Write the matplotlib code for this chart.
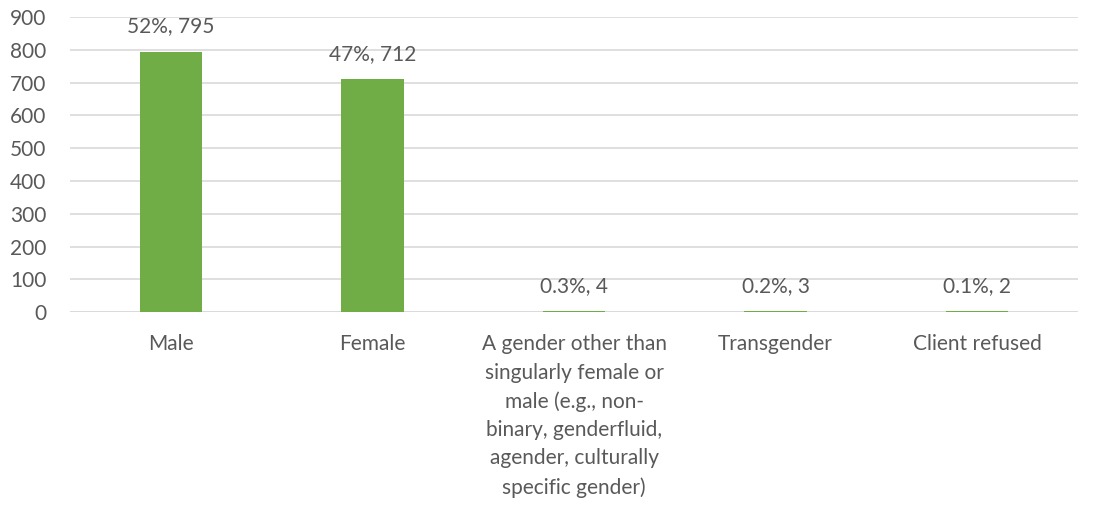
import matplotlib
matplotlib.use("Agg")
import matplotlib.pyplot as plt

# gender breakdown of clients
categories = ["Male", "Female",
              "A gender other than\nsingularly female or\nmale (e.g., non-\nbinary, genderfluid,\nagender, culturally\nspecific gender)",
              "Transgender", "Client refused"]
counts = [795, 712, 4, 3, 2]
percents = ["52%", "47%", "0.3%", "0.2%", "0.1%"]

plt.rcParams['font.family'] = ['Lato', 'DejaVu Sans']
txt = "#595959"
fs = 15

fig = plt.figure(figsize=(10.96, 5.05), dpi=100)
ax = fig.add_axes([0.0639, 0.382, 0.9197, 0.584])

x = range(len(categories))
ax.bar(x, counts, width=0.31, color="#70AD47", zorder=3)
for i, (c, p) in enumerate(zip(counts, percents)):
    ax.annotate(f"{p}, {c}", (i, c), xytext=(0, 18), textcoords="offset points",
                ha="center", va="center", fontsize=fs, color=txt)

ax.set_xlim(-0.5, len(categories) - 0.5)
ax.set_ylim(0, 900)
ax.set_yticks(range(0, 901, 100))
ax.set_xticks(list(x))
ax.set_xticklabels(categories, fontsize=fs, color=txt, linespacing=1.52, va="top")
ax.tick_params(axis="y", labelsize=fs, colors=txt, length=0, pad=17)
ax.tick_params(axis="x", length=0, pad=16)
ax.grid(axis="y", color="#D9D9D9", linewidth=1.2, zorder=0)
for s in ax.spines.values():
    s.set_visible(False)
ax.axhline(0, color="#D9D9D9", linewidth=1.2, zorder=2)

fig.savefig("out.png", dpi=100)
